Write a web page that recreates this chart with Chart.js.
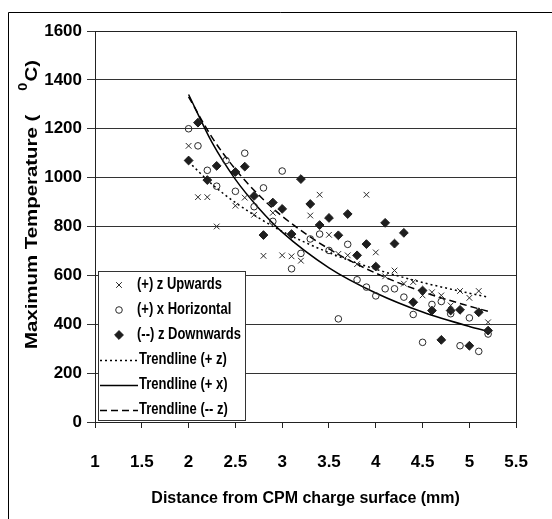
<!DOCTYPE html>
<html><head><meta charset="utf-8">
<script src="https://cdn.jsdelivr.net/npm/chart.js@4.4.1/dist/chart.umd.min.js"></script>
<style>html,body{margin:0;padding:0;background:#fff}#wrap{width:552px;height:519px;position:relative}</style>
</head><body><div id="wrap"><canvas id="c" width="552" height="519"></canvas></div>
<script>
// ---- data ----
const xTicks = [1, 1.5, 2, 2.5, 3, 3.5, 4, 4.5, 5, 5.5];
const yTicks = [0, 200, 400, 600, 800, 1000, 1200, 1400, 1600];
const seriesNames = ['(+) z Upwards', '(+) x Horizontal', '(--) z Downwards', 'Trendline (+ z)', 'Trendline (+ x)', 'Trendline (-- z)'];
const xTitle = 'Distance from CPM charge surface (mm)';
const yTitleMain = 'Maximum Temperature (';
const yTitleSup = '0';
const yTitleEnd = 'C)';

const upX = [2.0, 2.1, 2.2, 2.3, 2.5, 2.6, 2.7, 2.8, 2.9, 3.0, 3.1, 3.2, 3.3, 3.4, 3.5, 3.6, 3.7, 3.8, 3.9, 4.0, 4.1, 4.2, 4.3, 4.4, 4.5, 4.6, 4.7, 4.8, 4.9, 5.0, 5.1, 5.2];
const upY = [1130, 920, 920, 800, 885, 918, 848, 680, 856, 682, 678, 660, 845, 930, 766, 688, 682, 646, 930, 694, 596, 620, 566, 573, 518, 531, 518, 477, 536, 508, 536, 408];

const horX = [2.0, 2.1, 2.2, 2.3, 2.4, 2.5, 2.6, 2.7, 2.8, 2.9, 3.0, 3.1, 3.2, 3.3, 3.4, 3.5, 3.6, 3.7, 3.8, 3.9, 4.0, 4.1, 4.2, 4.3, 4.4, 4.5, 4.6, 4.7, 4.8, 4.9, 5.0, 5.1, 5.2];
const horY = [1200, 1130, 1030, 965, 1070, 944, 1100, 881, 958, 821, 1027, 627, 690, 749, 769, 702, 422, 727, 582, 552, 516, 545, 545, 511, 440, 326, 481, 493, 443, 312, 426, 289, 360];

const downX = [2.0, 2.1, 2.2, 2.3, 2.5, 2.6, 2.7, 2.8, 2.9, 3.0, 3.1, 3.2, 3.3, 3.4, 3.5, 3.6, 3.7, 3.8, 3.9, 4.0, 4.1, 4.2, 4.3, 4.4, 4.5, 4.6, 4.7, 4.8, 4.9, 5.0, 5.1, 5.2];
const downY = [1070, 1225, 990, 1048, 1023, 1045, 925, 765, 898, 872, 769, 994, 892, 806, 835, 764, 851, 682, 728, 636, 815, 730, 774, 490, 538, 456, 336, 456, 459, 312, 449, 374];

const trendX = [2.0, 2.25, 2.5, 2.75, 3.0, 3.5, 4.0, 4.5, 5.0, 5.2];
const trendZup = [1065, 973, 898, 835, 780, 693, 625, 571, 527, 511];
const trendXhor = [1340, 1144, 993, 875, 777, 631, 528, 450, 391, 371];
const trendZdown = [1330, 1165, 1034, 929, 842, 708, 609, 533, 474, 453];

// ---- build ----
const pts = (xs, ys) => xs.map((x, i) => ({x: x, y: ys[i]}));
const FONT = '"Liberation Sans", Arial, sans-serif';
const INK = '#000';
const MARK = '#2a2a2a';

const datasets = [
  {label: seriesNames[0], data: pts(upX, upY), showLine: false, pointStyle: 'crossRot', pointRadius: 4, borderColor: MARK, backgroundColor: MARK, pointBorderWidth: 1},
  {label: seriesNames[1], data: pts(horX, horY), showLine: false, pointStyle: 'circle', pointRadius: 3.3, borderColor: MARK, backgroundColor: 'rgba(255,255,255,0)', pointBorderWidth: 1},
  {label: seriesNames[2], data: pts(downX, downY), showLine: false, pointStyle: 'rectRot', pointRadius: 4.4, borderColor: '#1e1e1e', backgroundColor: '#1e1e1e', pointBorderWidth: 1},
  {label: seriesNames[3], data: pts(trendX, trendZup), showLine: true, pointRadius: 0, borderColor: INK, borderWidth: 1.5, borderDash: [2, 3], tension: 0.4, cubicInterpolationMode: 'monotone'},
  {label: seriesNames[4], data: pts(trendX, trendXhor), showLine: true, pointRadius: 0, borderColor: INK, borderWidth: 1.5, tension: 0.4, cubicInterpolationMode: 'monotone'},
  {label: seriesNames[5], data: pts(trendX, trendZdown), showLine: true, pointRadius: 0, borderColor: INK, borderWidth: 1.5, borderDash: [7, 4], tension: 0.4, cubicInterpolationMode: 'monotone'}
];

const framePlugin = {
  id: 'frame',
  beforeDraw(chart) {
    const ctx = chart.ctx;
    ctx.save();
    ctx.fillStyle = '#fff';
    ctx.fillRect(0, 0, chart.width, chart.height);
    ctx.strokeStyle = '#000';
    ctx.lineWidth = 1;
    ctx.beginPath();
    ctx.moveTo(8.5, chart.height);
    ctx.lineTo(8.5, 12.5);
    ctx.lineTo(chart.width, 12.5);
    ctx.stroke();
    ctx.restore();
  },
  afterDatasetsDraw(chart) {
    const a = chart.chartArea, ctx = chart.ctx;
    ctx.save();
    ctx.strokeStyle = '#222';
    ctx.lineWidth = 1;
    ctx.strokeRect(Math.round(a.left) + 0.5, Math.round(a.top) + 0.5, Math.round(a.right - a.left), Math.round(a.bottom - a.top));
    ctx.restore();
  },
  afterDraw(chart) {
    const ctx = chart.ctx;
    // Y axis title (rotated, with superscript)
    ctx.save();
    ctx.translate(37, 349);
    ctx.rotate(-Math.PI / 2);
    ctx.scale(1.2, 1);
    ctx.fillStyle = INK;
    ctx.textAlign = 'left';
    ctx.textBaseline = 'alphabetic';
    ctx.font = 'bold 17px ' + FONT;
    ctx.fillText(yTitleMain, 0, 0);
    let x = ctx.measureText(yTitleMain).width + 20;
    ctx.font = 'bold 12px ' + FONT;
    ctx.fillText(yTitleSup, x, -10);
    x += ctx.measureText(yTitleSup).width + 1;
    ctx.font = 'bold 17px ' + FONT;
    ctx.fillText(yTitleEnd, x, 0);
    ctx.restore();

    // Legend box inside plot
    const L = 98.5, T = 271.5, R = 245.5, B = 420.5;
    ctx.save();
    ctx.fillStyle = '#fff';
    ctx.fillRect(L, T, R - L, B - T);
    ctx.strokeStyle = '#333';
    ctx.lineWidth = 1;
    ctx.strokeRect(L, T, R - L, B - T);
    ctx.restore();
    const rows = [285, 310, 335, 360, 385, 410];
    chart.data.datasets.forEach((ds, i) => {
      const y = rows[i];
      ctx.save();
      if (i < 3) {
        ctx.fillStyle = ds.backgroundColor;
        ctx.strokeStyle = ds.borderColor;
        ctx.lineWidth = 1;
        Chart.helpers.drawPoint(ctx, {pointStyle: ds.pointStyle, radius: ds.pointRadius, borderWidth: 1}, 119, y);
      } else {
        ctx.strokeStyle = INK;
        ctx.lineWidth = 1.3;
        ctx.setLineDash(ds.borderDash || []);
        ctx.beginPath();
        ctx.moveTo(100, y + 0.5);
        ctx.lineTo(138, y + 0.5);
        ctx.stroke();
      }
      ctx.restore();
      ctx.save();
      ctx.translate(i < 3 ? 137 : 139, y);
      ctx.scale(1, 1.2);
      ctx.fillStyle = INK;
      ctx.font = 'bold 13px ' + FONT;
      ctx.textBaseline = 'middle';
      ctx.textAlign = 'left';
      ctx.fillText(ds.label, 0, 0);
      ctx.restore();
    });
  }
};

new Chart(document.getElementById('c'), {
  type: 'scatter',
  data: {datasets: datasets},
  options: {
    responsive: false,
    animation: false,
    devicePixelRatio: 1,
    layout: {padding: {top: 31, right: 12, left: 0, bottom: 0}},
    plugins: {legend: {display: false}, tooltip: {enabled: false}},
    scales: {
      x: {
        type: 'linear', min: 1, max: 5.5,
        afterBuildTicks: s => { s.ticks = xTicks.map(v => ({value: v})); },
        afterFit: s => { s.height = 97; },
        ticks: {color: INK, font: {family: FONT, size: 17, weight: 'bold'}, padding: 24, maxRotation: 0, autoSkip: false,
                callback: v => String(v)},
        grid: {display: true, drawOnChartArea: false, drawTicks: true, tickLength: 6, color: '#222'},
        border: {display: true, color: '#222', width: 1},
        title: {display: true, text: xTitle, color: INK, font: {family: FONT, size: 16, weight: 'bold'}, padding: {top: 0, bottom: 11}}
      },
      y: {
        type: 'linear', min: 0, max: 1600,
        afterBuildTicks: s => { s.ticks = yTicks.map(v => ({value: v})); },
        afterFit: s => { s.width = 95; },
        ticks: {color: INK, font: {family: FONT, size: 17, weight: 'bold'}, padding: 5, autoSkip: false, callback: v => String(v)},
        grid: {display: true, drawTicks: true, tickLength: 8, color: '#333', lineWidth: 1},
        border: {display: true, color: '#222', width: 1}
      }
    }
  },
  plugins: [framePlugin]
});
</script>
</body></html>
